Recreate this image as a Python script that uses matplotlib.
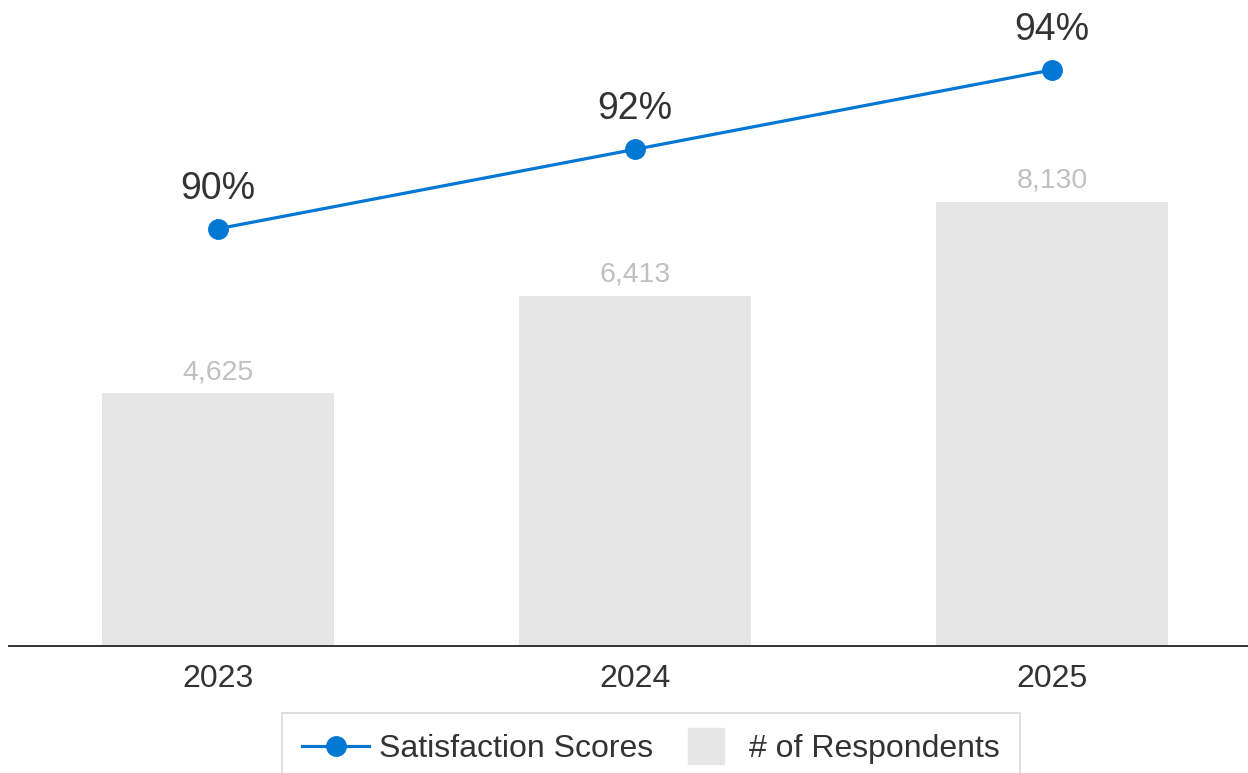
import matplotlib.pyplot as plt
from matplotlib.lines import Line2D

plt.rcParams['font.family'] = ['Liberation Sans', 'DejaVu Sans']

# data
years = ['2023', '2024', '2025']
respondents = [4625, 6413, 8130]
scores = [90, 92, 94]

blue = '#0078d4'
bar_grey = '#e6e6e6'

fig = plt.figure(figsize=(12.48, 7.73), dpi=100)
ax = fig.add_axes([9 / 1248, 1 - 646 / 773, 1 - 9 / 1248, 646 / 773])
x = list(range(len(years)))

bars = ax.bar(x, respondents, width=0.556, color=bar_grey, zorder=1)
for xi, v in zip(x, respondents):
    ax.annotate(f'{v:,}', (xi, v), xytext=(0, 6), textcoords='offset points',
                ha='center', va='bottom', fontsize=20.5, color='#c0c0c0')

ax.set_xlim(-0.5, 2.47)
ax.set_ylim(0, 11832)
ax.set_yticks([])
ax.set_xticks(x)
ax.set_xticklabels(years, fontsize=23, color='#333333')
ax.tick_params(axis='x', length=0, pad=13)
for s in ['top', 'right', 'left']:
    ax.spines[s].set_visible(False)
ax.spines['bottom'].set_color('#333333')
ax.spines['bottom'].set_linewidth(1.4)

ax2 = ax.twinx()
line, = ax2.plot(x, scores, color=blue, lw=2.3, marker='o', ms=14, zorder=3)
for xi, v in zip(x, scores):
    ax2.annotate(f'{v}%', (xi, v), xytext=(0, 16), textcoords='offset points',
                 ha='center', va='bottom', fontsize=27, color='#333333')
ax2.set_ylim(79.5, 95.76)
ax2.set_yticks([])
for s in ['top', 'right', 'left', 'bottom']:
    ax2.spines[s].set_visible(False)

bar_handle = Line2D([], [], ls='none', marker='s', ms=26, mfc=bar_grey, mec=bar_grey)
leg = fig.legend([line, bar_handle], ['Satisfaction Scores', '# of Respondents'],
                 loc='upper center', bbox_to_anchor=(651 / 1248, 1 - 713 / 773), ncol=2,
                 fontsize=23, frameon=True, fancybox=False, edgecolor='#d0d0d0',
                 handlelength=2.1, handletextpad=0.3, columnspacing=0.6,
                 borderpad=0.65, borderaxespad=0)
leg.get_frame().set_linewidth(1.2)
for t in leg.get_texts():
    t.set_color('#333333')

fig.savefig('out.png', dpi=100)
